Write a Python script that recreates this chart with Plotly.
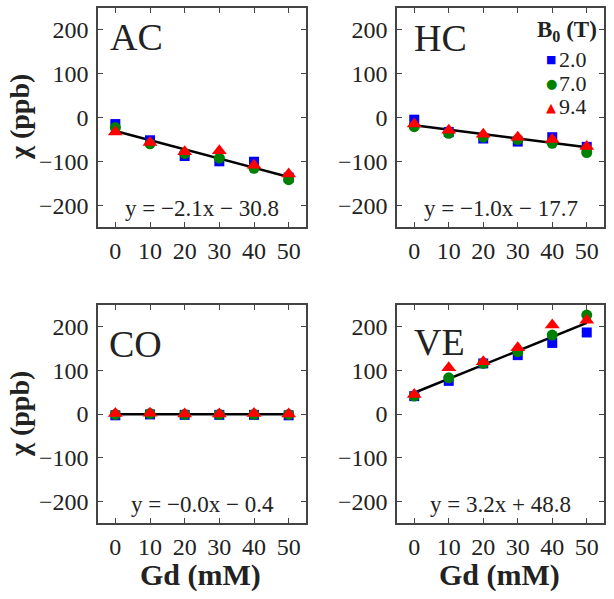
import plotly.graph_objects as go
from plotly.subplots import make_subplots

# ---- data ----
gd_mM = [0, 10, 20, 30, 40, 50]
field_labels = ["2.0", "7.0", "9.4"]
panel_names = ["AC", "HC", "CO", "VE"]

ac_2T = [-15, -52, -88, -100, -101, -137]
ac_7T = [-23, -60, -82, -93, -116, -142]
ac_94T = [-33, -57, -78, -76, -109, -129]

hc_2T = [-5, -33, -48, -55, -45, -67]
hc_7T = [-21, -36, -45, -50, -59, -80]
hc_94T = [-15, -29, -38, -45, -50, -66]

co_2T = [-3, -1, -2, -2, -2, -3]
co_7T = [-1, 1, -1, -1, -1, -1]
co_94T = [1, 2, 0, 0, 1, 0]

ve_2T = [41, 76, 116, 135, 163, 187]
ve_7T = [41, 83, 116, 143, 181, 227]
ve_94T = [45, 106, 120, 152, 204, 215]

fit_slope = [-2.1, -1.0, -0.0, 3.2]
fit_intercept = [-30.8, -17.7, -0.4, 48.8]

x_ticks = [0, 10, 20, 30, 40, 50]
y_ticks = [-200, -100, 0, 100, 200]

panel_data = [
    [ac_2T, ac_7T, ac_94T],
    [hc_2T, hc_7T, hc_94T],
    [co_2T, co_7T, co_94T],
    [ve_2T, ve_7T, ve_94T],
]

# ---- styling ----
FONT = "Liberation Serif"
TXT = "#222222"
FRAME = "#444444"
colors = ["#0000ff", "#008000", "#ff0000"]
symbols = ["square", "circle", "triangle-up"]
sizes = [10, 11, 13]
legend_glyphs = ["\u25a0", "\u25cf", "\u25b2"]
legend_glyph_sizes = [11, 13, 13]

W, H = 614, 599
fig = make_subplots(rows=2, cols=2)

for i, name in enumerate(panel_names):
    r, c = i // 2 + 1, i % 2 + 1
    s, b = fit_slope[i], fit_intercept[i]
    xs = [gd_mM[0], gd_mM[-1]]
    fig.add_trace(go.Scatter(x=xs, y=[s * x + b for x in xs], mode="lines",
                             line=dict(color="black", width=2.5),
                             showlegend=False, hoverinfo="skip"), row=r, col=c)
    for k in range(3):
        fig.add_trace(go.Scatter(
            x=gd_mM, y=panel_data[i][k], mode="markers", name=field_labels[k],
            marker=dict(symbol=symbols[k], size=sizes[k], color=colors[k], line=dict(width=0)),
            showlegend=False), row=r, col=c)

def px_dom_x(a, b):
    return [a / W, b / W]

def px_dom_y(top, bottom):
    return [1 - bottom / H, 1 - top / H]

xdoms = [px_dom_x(98, 306), px_dom_x(397, 604)]
ydoms = [px_dom_y(8, 227), px_dom_y(305, 523)]

axis_common = dict(showgrid=False, zeroline=False, showline=True, mirror="ticks",
                   linecolor=FRAME, linewidth=1.5, ticks="inside", ticklen=5,
                   tickcolor=FRAME, tickwidth=1, automargin=False,
                   tickfont=dict(family=FONT, size=24, color=TXT))

for i in range(4):
    r, c = i // 2, i % 2
    fig.update_xaxes(range=[-5, 55], tickvals=x_ticks, domain=xdoms[c],
                     ticklabelstandoff=1,
                     row=r + 1, col=c + 1, **axis_common)
    fig.update_yaxes(range=[-250, 250], tickvals=y_ticks,
                     ticktext=[str(v).replace("-", "\u2212") for v in y_ticks],
                     ticklabelstandoff=3,
                     domain=ydoms[r], row=r + 1, col=c + 1, **axis_common)

annotations = []
label_x_px = [108, 412, 107, 412]
label_y_px = [37, 38, 344, 342]
for i, name in enumerate(panel_names):
    axn = "" if i == 0 else str(i + 1)
    annotations.append(dict(text=name, xref="paper", yref="paper",
                            x=label_x_px[i] / W, y=1 - label_y_px[i] / H,
                            xanchor="left", yanchor="middle",
                            showarrow=False, font=dict(family=FONT, size=38, color=TXT)))
    s, b = fit_slope[i], fit_intercept[i]
    sign = "+" if b >= 0 else "\u2212"
    eq = f"y = {s:.1f}x {sign} {abs(b):.1f}".replace("-", "\u2212")
    annotations.append(dict(text=eq, xref=f"x{axn} domain", yref=f"y{axn} domain",
                            x=0.5, y=0.083, xanchor="center", yanchor="middle",
                            showarrow=False, font=dict(family=FONT, size=23, color=TXT)))

# axis titles
for yc in [117, 414]:
    annotations.append(dict(text="<b>\u03c7 (ppb)</b>", xref="paper", yref="paper",
                            x=19 / W, y=1 - yc / H, xanchor="center", yanchor="middle",
                            textangle=-90, showarrow=False,
                            font=dict(family=FONT, size=28, color=TXT)))
for xc in [200, 499]:
    annotations.append(dict(text="<b>Gd (mM)</b>", xref="paper", yref="paper",
                            x=xc / W, y=1 - 575 / H, xanchor="center", yanchor="middle",
                            showarrow=False, font=dict(family=FONT, size=30, color=TXT)))

# legend (inside HC panel)
annotations.append(dict(text="<b>B<sub>0</sub> (T)</b>", xref="paper", yref="paper",
                        x=599 / W, y=1 - 31 / H, xanchor="right", yanchor="middle",
                        showarrow=False, font=dict(family=FONT, size=23, color=TXT)))
legend_row_px = [59, 83, 107]
for k in range(3):
    annotations.append(dict(text=legend_glyphs[k], xref="paper", yref="paper",
                            x=551 / W, y=1 - legend_row_px[k] / H, height=20,
                            xanchor="center", yanchor="middle", showarrow=False,
                            font=dict(family="DejaVu Sans", size=legend_glyph_sizes[k], color=colors[k])))
    annotations.append(dict(text=field_labels[k], xref="paper", yref="paper",
                            x=557 / W, y=1 - legend_row_px[k] / H, height=21,
                            xanchor="left", yanchor="middle", showarrow=False,
                            font=dict(family=FONT, size=22, color=TXT)))

fig.update_layout(
    width=W, height=H, margin=dict(l=0, r=0, t=0, b=0),
    paper_bgcolor="white", plot_bgcolor="white",
    annotations=annotations, showlegend=False,
)

fig.write_html("out.html", config={"displayModeBar": False},
               post_script="document.body.style.margin='0';")
